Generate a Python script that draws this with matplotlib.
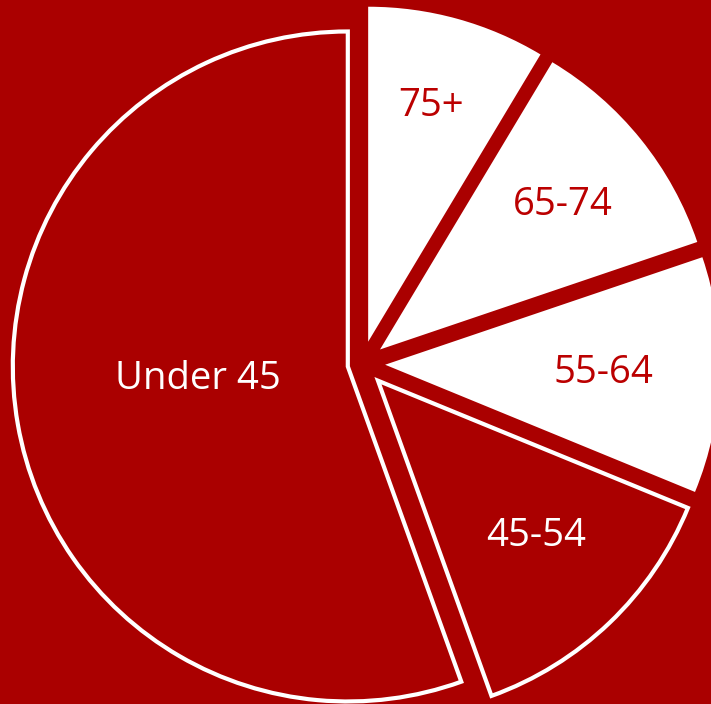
import numpy as np
import matplotlib
matplotlib.use('Agg')
import matplotlib.pyplot as plt

# Anteile der Altersgruppen (in %)
labels = ['75+', '65-74', '55-64', '45-54', 'Under 45']
shares = [8.6, 11.2, 11.4, 13.3, 55.5]
explode = [0.069, 0.069, 0.069, 0.069, 0.043]

bg = '#AA0000'
txt_red = '#BB0000'
white_slice = [True, True, True, False, False]

# Position der Beschriftung relativ zur Spitze des Segments
label_r = [0.741, 0.704, 0.651, 0.652, 0.449]
label_dang = [0.8, 0.4, 0.9, 2.6, -7.0]

plt.rcParams['font.family'] = ['Open Sans', 'DejaVu Sans']

fig = plt.figure(figsize=(7.11, 7.04), dpi=100, facecolor=bg)
ax = fig.add_axes([0, 0, 1, 1])
ax.set_facecolor(bg)

wedges, _ = ax.pie(shares, explode=explode, startangle=90, counterclock=False,
                   radius=1.0, center=(0, 0))

for w, is_white in zip(wedges, white_slice):
    if is_white:
        w.set_facecolor('white')
        w.set_edgecolor('none')
    else:
        w.set_facecolor(bg)
        w.set_edgecolor('white')
        w.set_linewidth(3.0)
        w.set_joinstyle('miter')

for w, lab, is_white, r, da in zip(wedges, labels, white_slice, label_r, label_dang):
    mid = np.deg2rad((w.theta1 + w.theta2) / 2 + da)
    cx, cy = w.center
    ax.text(cx + r * np.cos(mid), cy + r * np.sin(mid), lab,
            ha='center', va='center_baseline', fontsize=27.5,
            color=txt_red if is_white else 'white')

# Ausschnitt: Radius 335 px, Mittelpunkt bei (362, 364) px
R = 335.0
ax.set_xlim(-362 / R, (711 - 362) / R)
ax.set_ylim(-(704 - 364) / R, 364 / R)
ax.set_aspect('auto')
ax.axis('off')

fig.savefig('out.png', dpi=100, facecolor=bg)
